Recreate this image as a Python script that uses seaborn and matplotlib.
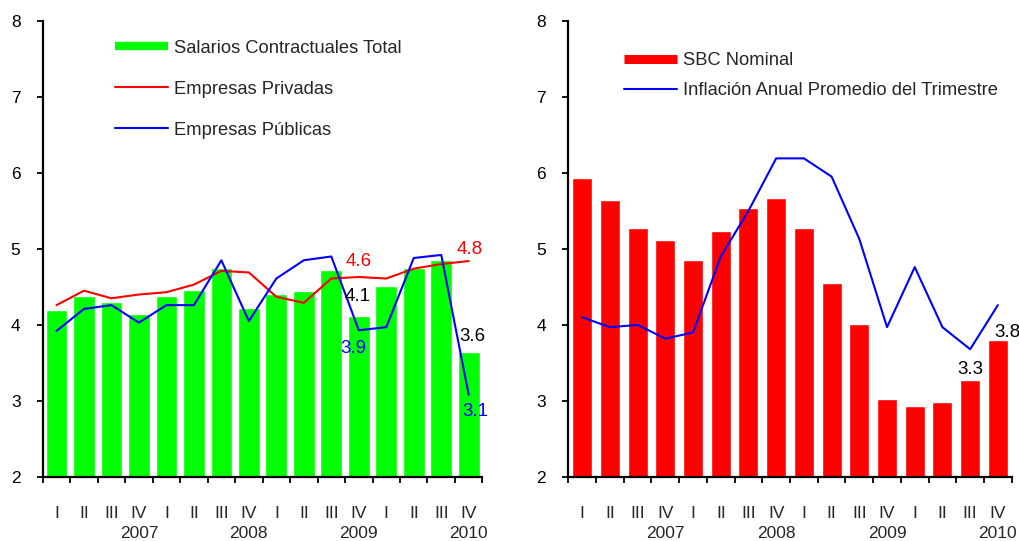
import numpy as np
import matplotlib
matplotlib.use('Agg')
import matplotlib.pyplot as plt
import seaborn as sns
from matplotlib.lines import Line2D

# data
quarters = ['I', 'II', 'III', 'IV'] * 4
years = ['2007', '2008', '2009', '2010']

salarios_total = [4.19, 4.38, 4.30, 4.14, 4.38, 4.46, 4.75, 4.22,
                  4.40, 4.44, 4.72, 4.12, 4.51, 4.75, 4.85, 3.64]
empresas_privadas = [4.26, 4.45, 4.35, 4.40, 4.43, 4.53, 4.71, 4.69,
                     4.37, 4.29, 4.61, 4.63, 4.61, 4.74, 4.80, 4.84]
empresas_publicas = [3.92, 4.21, 4.26, 4.03, 4.26, 4.26, 4.85, 4.05,
                     4.61, 4.85, 4.90, 3.93, 3.97, 4.88, 4.92, 3.08]

sbc_nominal = [5.93, 5.64, 5.28, 5.12, 4.86, 5.23, 5.54, 5.67,
               5.28, 4.55, 4.01, 3.02, 2.94, 2.99, 3.28, 3.80]
inflacion = [4.10, 3.97, 4.00, 3.82, 3.90, 4.90, 5.50, 6.19,
             6.19, 5.95, 5.13, 3.97, 4.76, 3.97, 3.68, 4.26]

GREEN = '#00ff00'
RED = '#ff0000'
BLUE = '#0000ff'

sns.set_style('ticks')
plt.rcParams['font.family'] = ['Liberation Sans', 'DejaVu Sans']

pos = np.arange(len(quarters))

fig = plt.figure(figsize=(10.2, 5.41), dpi=100)
ax1 = fig.add_axes([0.0419, 0.1183, 0.4311, 0.8434])
ax2 = fig.add_axes([0.5572, 0.1183, 0.4347, 0.8434])


def style_axis(ax):
    ax.set_xlim(-0.5, len(pos) - 0.5)
    ax.set_ylim(2, 8)
    ax.set_yticks(range(2, 9))
    ax.set_xticks(np.arange(-0.5, len(pos), 1.0))
    ax.set_xticklabels([])
    ax.set_xlabel('')
    ax.set_ylabel('')
    for s in ['top', 'right']:
        ax.spines[s].set_visible(False)
    for s in ['left', 'bottom']:
        ax.spines[s].set_color('black')
        ax.spines[s].set_linewidth(1.6)
    ax.tick_params(axis='y', direction='out', length=4, width=1.3,
                   labelsize=12.5, pad=12, colors='black')
    ax.tick_params(axis='x', direction='out', length=4.5, width=1.3,
                   colors='black')
    tr = ax.get_xaxis_transform()
    for i, q in enumerate(quarters):
        ax.text(i, -0.0899, q, transform=tr, ha='center', va='baseline',
                fontsize=12.5)
    for k, y in enumerate(years):
        ax.text(4 * k + 3, -0.1337, y, transform=tr, ha='center',
                va='baseline', fontsize=12.5)


# left panel
sns.barplot(x=pos, y=salarios_total, ax=ax1, color=GREEN, saturation=1,
            width=0.79)
sns.lineplot(x=pos, y=empresas_privadas, ax=ax1, color=RED, lw=1.5)
sns.lineplot(x=pos, y=empresas_publicas, ax=ax1, color=BLUE, lw=1.5)
style_axis(ax1)

fs = 13.5
ax1.text(11.0, 4.83, f'{empresas_privadas[11]:.1f}', color=RED,
         ha='center', va='center', fontsize=fs)
ax1.text(15.04, 4.99, f'{empresas_privadas[15]:.1f}', color=RED,
         ha='center', va='center', fontsize=fs)
ax1.text(10.97, 4.37, f'{salarios_total[11]:.1f}', color='black',
         ha='center', va='center', fontsize=fs)
ax1.text(10.82, 3.69, f'{empresas_publicas[11]:.1f}', color=BLUE,
         ha='center', va='center', fontsize=fs)
ax1.text(15.15, 3.85, f'{salarios_total[15]:.1f}', color='black',
         ha='center', va='center', fontsize=fs, clip_on=False)
ax1.text(15.23, 2.86, f'{empresas_publicas[15]:.1f}', color=BLUE,
         ha='center', va='center', fontsize=fs, clip_on=False)

h1 = [Line2D([0], [0], color=GREEN, lw=6, solid_capstyle='butt'),
      Line2D([0], [0], color=RED, lw=1.5),
      Line2D([0], [0], color=BLUE, lw=1.5)]
ax1.legend(h1, ['Salarios Contractuales Total', 'Empresas Privadas',
                'Empresas Públicas'],
           loc='upper left', bbox_to_anchor=(0.164, 0.958), frameon=False,
           fontsize=13.2, handlelength=2.9, handletextpad=0.3,
           labelspacing=1.3, borderpad=0, borderaxespad=0)

# right panel
sns.barplot(x=pos, y=sbc_nominal, ax=ax2, color=RED, saturation=1,
            width=0.72)
sns.lineplot(x=pos, y=inflacion, ax=ax2, color=BLUE, lw=1.5)
style_axis(ax2)

ax2.text(13.99, 3.42, f'{sbc_nominal[14]:.1f}', color='black',
         ha='center', va='center', fontsize=fs)
ax2.text(15.36, 3.90, f'{sbc_nominal[15]:.1f}', color='black',
         ha='center', va='center', fontsize=fs, clip_on=False)

h2 = [Line2D([0], [0], color=RED, lw=6.5, solid_capstyle='butt'),
      Line2D([0], [0], color=BLUE, lw=1.5)]
ax2.legend(h2, ['SBC Nominal', 'Inflación Anual Promedio del Trimestre'],
           loc='upper left', bbox_to_anchor=(0.126, 0.931), frameon=False,
           fontsize=13.2, handlelength=2.9, handletextpad=0.3,
           labelspacing=0.72, borderpad=0, borderaxespad=0)

fig.savefig('out.png', dpi=100)
